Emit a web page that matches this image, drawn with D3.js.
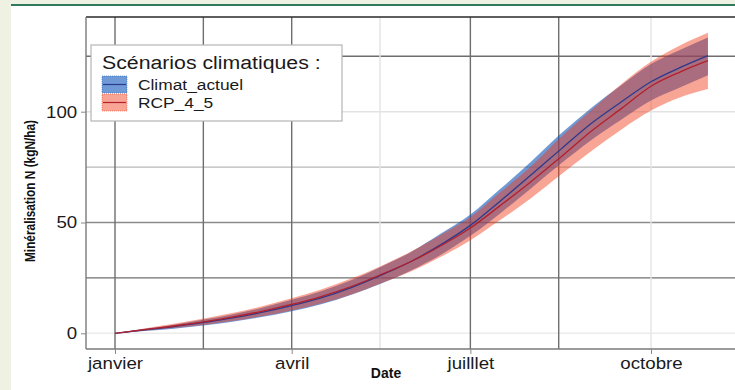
<!DOCTYPE html>
<html>
<head>
<meta charset="utf-8">
<script src="https://cdn.jsdelivr.net/npm/d3@7"></script>
<style>
  body { margin: 0; background: #eff1e2; }
  svg { display: block; }
  text { font-family: "Liberation Sans", Arial, sans-serif; }
</style>
</head>
<body>
<div id="chart"></div>
<script>
// dates of the curves (cumulative, from 1 January)
var dates = ["2021-01-01","2021-01-16","2021-01-31","2021-02-16","2021-03-01","2021-03-16",
  "2021-04-01","2021-04-16","2021-05-01","2021-05-16","2021-06-01","2021-06-16","2021-07-01",
  "2021-07-16","2021-08-01","2021-08-16","2021-09-01","2021-09-16","2021-10-01","2021-10-16","2021-10-30"];

// Climat_actuel
var actuelMean = [0,1.5,3.0,5.0,6.8,9.3,12.5,16.0,20.5,26.0,32.5,40.0,48.7,59.5,71.5,83.0,95.0,104.5,113.5,120.0,125.3];
var actuelLow  = [0,1.0,2.1,3.6,5.1,7.2,9.9,13.1,17.3,22.3,28.5,35.5,44.0,54.0,65.5,76.5,87.5,96.5,105.0,111.0,116.5];
var actuelHigh = [0,2.0,3.9,6.3,8.4,11.3,15.1,19.0,23.8,29.8,36.8,45.0,53.6,65.0,77.5,90.0,102.0,112.0,121.5,128.0,133.5];

// RCP_4_5
var rcpMean = [0,1.7,3.3,5.3,7.2,9.8,13.0,16.6,21.0,26.3,32.5,39.5,47.5,57.5,68.5,79.5,91.5,101.5,111.5,118.0,123.0];
var rcpLow  = [0,1.2,2.4,3.9,5.4,7.6,10.3,13.4,17.4,22.4,28.0,34.5,42.0,51.0,61.0,71.5,82.5,92.0,100.5,106.5,110.2];
var rcpHigh = [0,2.2,4.3,6.8,9.0,12.0,15.8,19.8,24.6,30.2,37.0,44.5,52.5,63.5,75.5,88.5,101.0,112.5,122.5,130.0,135.6];

var monthTicks = ["2021-01-01","2021-04-01","2021-07-01","2021-10-01"];
var monthLabels = ["janvier","avril","juilllet","octobre"];
var minorTicks = ["2021-02-15","2021-05-16","2021-08-15"];
var yTicks = [0, 50, 100];
var yMinor = [25, 75, 125];
var seriesNames = ["Climat_actuel", "RCP_4_5"];
var legendTitle = "Scénarios climatiques :";

var W = 735, H = 390;
var parse = d3.utcParse("%Y-%m-%d");

var svg = d3.select("#chart").append("svg")
  .attr("width", W).attr("height", H);

// page frame
svg.append("rect").attr("x", 11).attr("y", 6).attr("width", W - 11).attr("height", H - 6).attr("fill", "#fff");
svg.append("rect").attr("x", 11).attr("y", 4).attr("width", W - 11).attr("height", 2).attr("fill", "#2f7a5c");

var panel = { left: 86, right: 742, top: 17, bottom: 349 };

var x = d3.scaleUtc()
  .domain([parse("2021-01-01"), parse("2021-10-01")])
  .range([115, 651]);
var y = d3.scaleLinear()
  .domain([0, 100])
  .range([333.3, 111.7]);

var g = svg.append("g");

// grid (the source has uneven grey levels)
var xGrid = [
  { d: "2021-01-01", c: "#6e6e6e" }, { d: minorTicks[0], c: "#6e6e6e" },
  { d: "2021-04-01", c: "#6e6e6e" }, { d: minorTicks[1], c: "#e4e4e4" },
  { d: "2021-07-01", c: "#6e6e6e" }, { d: minorTicks[2], c: "#6e6e6e" },
  { d: "2021-10-01", c: "#e4e4e4" }
];
var yGrid = [
  { v: 0, c: "#ececec" }, { v: yMinor[0], c: "#707070" }, { v: 50, c: "#8a8a8a" },
  { v: yMinor[1], c: "#b8b8b8" }, { v: 100, c: "#e2e2e2" }, { v: yMinor[2], c: "#6e6e6e" }
];

g.selectAll(".hgrid").data(yGrid).enter().append("line")
  .attr("x1", panel.left).attr("x2", panel.right)
  .attr("y1", function (d) { return y(d.v); }).attr("y2", function (d) { return y(d.v); })
  .attr("stroke", function (d) { return d.c; }).attr("stroke-width", 1.4);

g.selectAll(".vgrid").data(xGrid).enter().append("line")
  .attr("y1", panel.top).attr("y2", panel.bottom)
  .attr("x1", function (d) { return x(parse(d.d)); }).attr("x2", function (d) { return x(parse(d.d)); })
  .attr("stroke", function (d) { return d.c; }).attr("stroke-width", 1.4);

// ribbons + lines
var series = [
  { name: seriesNames[0], mean: actuelMean, low: actuelLow, high: actuelHigh, fill: "#0f57bb", op: 0.6, line: "#2d3a8c" },
  { name: seriesNames[1], mean: rcpMean, low: rcpLow, high: rcpHigh, fill: "#f03716", op: 0.45, line: "#b3202c" }
];

var area = d3.area()
  .curve(d3.curveMonotoneX)
  .x(function (d) { return x(d.date); })
  .y0(function (d) { return y(d.low); })
  .y1(function (d) { return y(d.high); });

var line = d3.line()
  .curve(d3.curveMonotoneX)
  .x(function (d) { return x(d.date); })
  .y(function (d) { return y(d.mean); });

series.forEach(function (s) {
  s.values = dates.map(function (d, i) {
    return { date: parse(d), mean: s.mean[i], low: s.low[i], high: s.high[i] };
  });
});

series.forEach(function (s) {
  g.append("path").datum(s.values)
    .attr("d", area)
    .attr("fill", s.fill).attr("fill-opacity", s.op);
});
series.forEach(function (s) {
  g.append("path").datum(s.values)
    .attr("d", line)
    .attr("fill", "none").attr("stroke", s.line).attr("stroke-width", 1.3);
});

// panel border
g.append("line").attr("x1", panel.left).attr("x2", panel.right).attr("y1", panel.top).attr("y2", panel.top)
  .attr("stroke", "#2a2a2a").attr("stroke-width", 1.6);
g.append("line").attr("x1", panel.left).attr("x2", panel.left).attr("y1", panel.top).attr("y2", panel.bottom)
  .attr("stroke", "#7a7a7a").attr("stroke-width", 1.4);
g.append("line").attr("x1", panel.left).attr("x2", panel.right).attr("y1", panel.bottom).attr("y2", panel.bottom)
  .attr("stroke", "#7a7a7a").attr("stroke-width", 1.4);

// axes
var sx = 1.1;
var yAxis = d3.axisLeft(y).tickValues(yTicks).tickSize(5).tickPadding(3);
var yg = svg.append("g").attr("transform", "translate(" + panel.left + ",0)").call(yAxis);
yg.select(".domain").remove();
yg.selectAll("line").attr("stroke", "#888");
yg.selectAll("text").attr("font-size", 17).attr("fill", "#1a1a1a")
  .attr("font-family", "Liberation Sans, Arial, sans-serif")
  .attr("transform", "scale(" + sx + ",1)");

var xAxis = d3.axisBottom(x)
  .tickValues(monthTicks.map(parse))
  .tickFormat(function (d, i) { return monthLabels[i]; })
  .tickSize(5).tickPadding(3);
var xg = svg.append("g").attr("transform", "translate(0," + panel.bottom + ")").call(xAxis);
xg.select(".domain").remove();
xg.selectAll("line").attr("stroke", "#888");
xg.selectAll("text").attr("font-size", 17).attr("fill", "#1a1a1a")
  .attr("font-family", "Liberation Sans, Arial, sans-serif")
  .attr("transform", "scale(" + sx + ",1)");

// axis titles
svg.append("text")
  .attr("transform", "translate(386,378) scale(1,1.1)")
  .attr("text-anchor", "middle")
  .attr("font-family", "Liberation Sans Narrow, DejaVu Sans Condensed, sans-serif")
  .attr("font-weight", "bold").attr("font-size", 14)
  .attr("fill", "#111")
  .text("Date");

svg.append("text")
  .attr("transform", "translate(35,191) rotate(-90)")
  .attr("text-anchor", "middle")
  .attr("font-family", "Liberation Sans Narrow, DejaVu Sans Condensed, sans-serif")
  .attr("font-weight", "bold").attr("font-size", 14)
  .attr("textLength", 142).attr("lengthAdjust", "spacingAndGlyphs")
  .attr("fill", "#111")
  .text("Minéralisation N (kgN/ha)");

// legend
var lg = svg.append("g").attr("transform", "translate(91,45)");
lg.append("rect").attr("width", 251).attr("height", 76)
  .attr("fill", "#fff").attr("stroke", "#b5b5b5").attr("stroke-width", 1.2);
lg.append("text").attr("transform", "translate(11,24) scale(1.12,1)")
  .attr("font-size", 19).attr("fill", "#1a1a1a")
  .text(legendTitle);

var keys = lg.selectAll(".key").data(series).enter().append("g")
  .attr("transform", function (d, i) { return "translate(11," + (31 + i * 18) + ")"; });
keys.append("rect").attr("width", 25).attr("height", 17)
  .attr("fill", function (d) { return d.fill; })
  .attr("fill-opacity", function (d) { return d.op; })
  .attr("stroke", function (d) { return d.fill; })
  .attr("stroke-opacity", 0.5).attr("stroke-dasharray", "1,1");
keys.append("line").attr("x1", 1).attr("x2", 24).attr("y1", 8.5).attr("y2", 8.5)
  .attr("stroke", function (d) { return d.line; }).attr("stroke-width", 1.2);
keys.append("text")
  .attr("transform", "translate(36,14) scale(1.12,1)")
  .attr("font-size", 15.5).attr("fill", "#1a1a1a")
  .text(function (d) { return d.name; });
</script>
</body>
</html>
